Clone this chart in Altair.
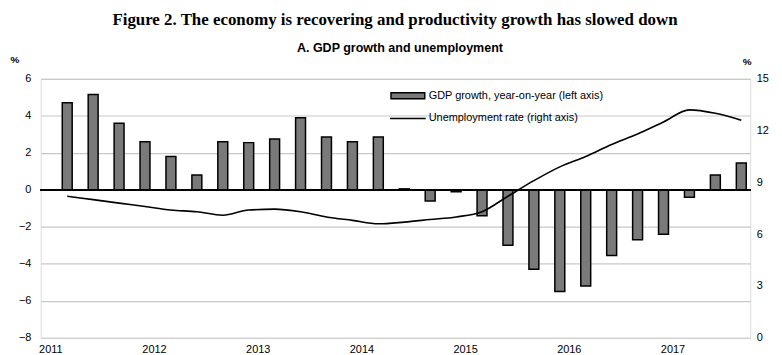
import altair as alt
import pandas as pd

years = [2011]*4 + [2012]*4 + [2013]*4 + [2014]*4 + [2015]*4 + [2016]*4 + [2017]*3
quarters = [1, 2, 3, 4]*6 + [1, 2, 3]
gdp_growth = [4.7, 5.15, 3.6, 2.6, 1.8, 0.8, 2.6, 2.55, 2.75, 3.9, 2.85, 2.6,
              2.85, 0.05, -0.6, -0.1, -1.4, -3.0, -4.3, -5.5, -5.2, -3.55, -2.7,
              -2.4, -0.4, 0.8, 1.45]
unemployment = [8.2, 8.0, 7.8, 7.6, 7.4, 7.3, 7.1, 7.4, 7.45, 7.3, 7.0, 6.8,
                6.6, 6.7, 6.85, 7.0, 7.3, 8.2, 9.1, 9.9, 10.5, 11.2, 11.8, 12.5,
                13.2, 13.0, 12.6]
year_ticks = [2011, 2012, 2013, 2014, 2015, 2016, 2017]
left_ticks = [-8, -6, -4, -2, 0, 2, 4, 6]
right_ticks = [0, 3, 6, 9, 12, 15]

title_text = "Figure 2. The economy is recovering and productivity growth has slowed down"
subtitle_text = "A. GDP growth and unemployment"
legend_labels = ["GDP growth, year-on-year (left axis)", "Unemployment rate (right axis)"]

df = pd.DataFrame({
    "year": years,
    "quarter": quarters,
    "gdp": gdp_growth,
    "unemp": unemployment,
})
df["t"] = df["year"] + (df["quarter"] - 0.5) / 4

W, H = 715, 261
FONT = "Liberation Sans"

xscale = alt.Scale(domain=[2010.9175, 2017.663], nice=False, zero=False)
xaxis = alt.Axis(values=year_ticks, format="d", title=None, ticks=False, domain=False,
                 grid=False, labelFont=FONT, labelFontSize=11, labelColor="#000",
                 labelPadding=6, labelOffset=-4)

left_scale = alt.Scale(domain=[-8, 6], nice=False)
left_axis = alt.Axis(values=left_ticks, title=None, ticks=False, labelOverlap=False,
                     domain=False, grid=True, gridColor="#c8c8c8", gridWidth=1.2,
                     labelFont=FONT, labelFontSize=11, labelColor="#000", labelPadding=10)

bars = alt.Chart(df).mark_bar(size=10, fill="#7a7a7a", stroke="#000", strokeWidth=1.5).encode(
    x=alt.X("t:Q", scale=xscale, axis=xaxis),
    y=alt.Y("gdp:Q", scale=left_scale, axis=left_axis),
)
zero = alt.Chart(df).mark_rule(color="#000", strokeWidth=1.5).encode(
    y=alt.datum(0, type="quantitative", scale=left_scale, axis=left_axis)
)
left_layer = alt.layer(bars, zero)

line = alt.Chart(df).mark_line(color="#000", strokeWidth=1.6, interpolate="monotone").encode(
    x=alt.X("t:Q", scale=xscale, axis=xaxis),
    y=alt.Y("unemp:Q", scale=alt.Scale(domain=[0, 15], nice=False),
            axis=alt.Axis(orient="right", values=right_ticks, title=None, labelOverlap=False,
                          ticks=False, domain=False, grid=False, labelFont=FONT,
                          labelFontSize=11, labelColor="#000", labelPadding=6)),
)

one = pd.DataFrame({"k": [0]})

def txt(text, x, y, size, font=FONT, weight="normal", align="left", baseline="middle"):
    return alt.Chart(one).mark_text(text=text, font=font, fontSize=size, fontWeight=weight,
                                    align=align, baseline=baseline, color="#000").encode(
        x=alt.value(x), y=alt.value(y))

title = txt(title_text, 357, -54, 17, font="Liberation Serif", weight="bold",
            align="center", baseline="alphabetic")
subtitle = txt(subtitle_text, 362, -27, 12.6, weight="bold", align="center",
               baseline="alphabetic")
pct_left = txt("%", -26, -19, 10, weight="bold", align="center")
pct_right = txt("%", 712, -17, 10, weight="bold", align="center")

leg_rect = alt.Chart(one).mark_rect(fill="#7a7a7a", stroke="#000", strokeWidth=1.5).encode(
    x=alt.value(353), x2=alt.value(387), y=alt.value(14), y2=alt.value(20))
leg_line = alt.Chart(one).mark_rule(color="#000", strokeWidth=1.6).encode(
    x=alt.value(352), x2=alt.value(388), y=alt.value(40))
leg_t1 = txt(legend_labels[0], 391, 17, 11)
leg_t2 = txt(legend_labels[1], 391, 40, 11)

chart = alt.layer(
    left_layer, line, title, subtitle, pct_left, pct_right,
    leg_rect, leg_line, leg_t1, leg_t2
).resolve_scale(y="independent").properties(
    width=W, height=H,
    autosize=alt.AutoSizeParams(type="none"),
    padding={"left": 33, "top": 70, "right": 24, "bottom": 16},
).configure_view(stroke=None).configure(background="white")

chart.save("out.html", embed_options={"renderer": "svg", "actions": False})
